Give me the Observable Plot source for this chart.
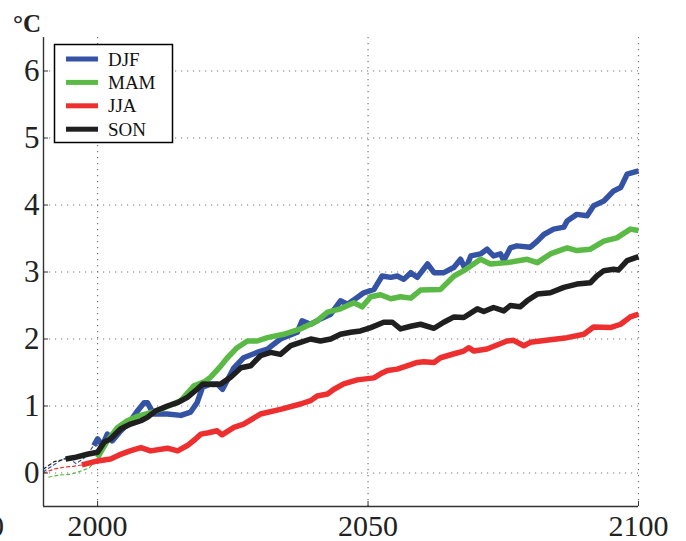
<!DOCTYPE html>
<html><head><meta charset="utf-8">
<script src="https://cdn.jsdelivr.net/npm/d3@7"></script>
<script src="https://cdn.jsdelivr.net/npm/@observablehq/plot@0.6"></script>
<style>
html,body{margin:0;padding:0;background:#fff;}
#chart{width:686px;height:541px;position:relative;overflow:hidden;}
#chart svg, #chart svg text{font-family:'Liberation Serif','Times New Roman',serif !important;}
</style></head><body><div id="chart"></div>
<script>
const seriesNames = ["DJF", "MAM", "JJA", "SON"];
const seriesColors = ["#3553a5", "#5bb946", "#ee2f2f", "#1f1f1f"];
const xTicks = [2000, 2050, 2100];
const yTicks = [0, 1, 2, 3, 4, 5, 6];
const xDomain = [1990, 2100];
const yDomain = [-0.5, 6.5];
const unitLabel = "°C";

// [year, °C]
const djf = [[1999.3,0.41],[2000,0.51],[2000.9,0.41],[2001.8,0.58],[2002.7,0.48],[2004.3,0.63],[2006.1,0.78],[2007.4,0.93],[2008.6,1.05],[2009.2,1.05],[2010.4,0.88],[2012.9,0.88],[2015.4,0.86],[2017.2,0.91],[2018.4,1.05],[2019.4,1.28],[2020.9,1.33],[2022.1,1.33],[2023.1,1.25],[2025.2,1.57],[2027,1.72],[2029.5,1.80],[2031.4,1.85],[2033.8,2.00],[2036.9,2.10],[2037.8,2.27],[2039.4,2.22],[2041.2,2.30],[2043.1,2.37],[2044.9,2.57],[2046.2,2.52],[2048,2.62],[2049.2,2.69],[2051.1,2.74],[2052.6,2.94],[2054.2,2.92],[2055.4,2.94],[2056.6,2.89],[2057.9,2.99],[2059.1,2.92],[2061,3.12],[2062.2,2.99],[2064,2.99],[2065.9,3.07],[2067.1,3.19],[2068,3.04],[2069,3.24],[2070.8,3.27],[2072,3.34],[2073.2,3.24],[2074.5,3.27],[2075.1,3.17],[2076.3,3.36],[2077.5,3.39],[2080,3.37],[2081.3,3.46],[2082.5,3.56],[2084.3,3.64],[2086.2,3.67],[2086.8,3.76],[2088.6,3.86],[2090.5,3.84],[2091.7,3.99],[2093.6,4.06],[2095.4,4.21],[2096.7,4.26],[2097.9,4.46],[2100,4.51]];
const mam = [[2000,0.23],[2001.8,0.48],[2003.7,0.68],[2005.5,0.78],[2007.5,0.85],[2009.8,0.90],[2011.7,0.95],[2015.4,1.08],[2017.8,1.30],[2019.7,1.36],[2020.9,1.43],[2022.8,1.60],[2024,1.72],[2025.8,1.87],[2027.7,1.97],[2029.5,1.97],[2031.4,2.02],[2034.4,2.07],[2037.5,2.15],[2040.6,2.27],[2042.5,2.40],[2044.9,2.45],[2047.4,2.54],[2048.9,2.48],[2050.5,2.63],[2052.3,2.66],[2054.2,2.60],[2056,2.63],[2057.9,2.61],[2059.7,2.73],[2063.4,2.74],[2065.9,2.94],[2067.7,3.02],[2070.8,3.19],[2072.6,3.12],[2075.7,3.14],[2079.4,3.19],[2081.3,3.14],[2083.7,3.27],[2086.8,3.36],[2088.6,3.32],[2091.1,3.34],[2093.6,3.46],[2096,3.51],[2098.5,3.64],[2100,3.62]];
const jja = [[1997.1,0.12],[2000,0.18],[2002.4,0.21],[2004,0.27],[2006,0.33],[2008,0.38],[2009.8,0.33],[2012.9,0.37],[2014.8,0.33],[2016.6,0.41],[2018,0.50],[2019.1,0.58],[2020.5,0.60],[2022.1,0.63],[2023,0.57],[2025.2,0.68],[2027,0.73],[2030.1,0.88],[2033.8,0.95],[2037.5,1.03],[2039.4,1.08],[2040.6,1.15],[2042.5,1.18],[2043.7,1.25],[2045.5,1.33],[2048,1.39],[2051.1,1.42],[2052.3,1.48],[2053.6,1.53],[2055.4,1.55],[2057.2,1.60],[2059.1,1.65],[2060.3,1.66],[2062.2,1.65],[2063.4,1.72],[2065.9,1.78],[2067.7,1.82],[2068.6,1.87],[2069.6,1.82],[2072,1.85],[2075.7,1.97],[2076.9,1.98],[2078.8,1.90],[2080,1.95],[2083.7,1.99],[2086.8,2.02],[2089.9,2.07],[2091.7,2.18],[2094.8,2.17],[2096.7,2.22],[2098.5,2.33],[2100,2.37]];
const son = [[1994.1,0.21],[1995.7,0.23],[1998.1,0.28],[2000,0.31],[2001.2,0.46],[2002.4,0.51],[2004.3,0.66],[2006.1,0.73],[2008,0.78],[2009.2,0.83],[2010.8,0.93],[2012.9,1.00],[2014.8,1.05],[2016.6,1.13],[2018.4,1.25],[2019.5,1.33],[2021.5,1.32],[2022.8,1.33],[2024.6,1.43],[2026.5,1.57],[2028.3,1.60],[2030.1,1.75],[2032,1.80],[2033.8,1.77],[2035.7,1.90],[2037.5,1.95],[2039.4,2.00],[2041.2,1.97],[2043.1,2.00],[2044.9,2.07],[2046.8,2.10],[2048.6,2.12],[2050.5,2.17],[2052.9,2.25],[2054.5,2.25],[2056,2.15],[2057.9,2.19],[2059.7,2.22],[2062.2,2.16],[2064,2.25],[2065.9,2.33],[2067.7,2.32],[2070.2,2.45],[2071.4,2.41],[2073.2,2.47],[2075.1,2.42],[2076.3,2.50],[2078.1,2.48],[2079.4,2.57],[2081.3,2.67],[2083.7,2.69],[2086.2,2.77],[2088.6,2.82],[2091.1,2.84],[2092.3,2.94],[2093.6,3.02],[2095.4,3.04],[2096.3,3.03],[2097.9,3.17],[2100,3.23]];

// early (thin dashed) segments
const djfEarly = [[1990,0.02],[1991.5,0.10],[1993,0.18],[1994.5,0.24],[1996,0.14],[1997.5,0.22],[1999.3,0.41]];
const mamEarly = [[1991,-0.06],[1993,-0.03],[1995,-0.02],[1997,0.03],[1998.5,0.08],[2000,0.23]];
const jjaEarly = [[1990,0.0],[1992,0.06],[1994,0.09],[1995.5,0.10],[1997.1,0.12]];
const sonEarly = [[1990,0.06],[1992,0.17],[1994.1,0.21]];

const main = [djf, mam, jja, son];
const early = [djfEarly, mamEarly, jjaEarly, sonEarly];
const rows = [], earlyRows = [];
main.forEach((s, i) => s.forEach(([year, value]) => rows.push({series: seriesNames[i], year, value})));
early.forEach((s, i) => s.forEach(([year, value]) => earlyRows.push({series: seriesNames[i], year, value})));

const font = "'Liberation Serif', 'Times New Roman', serif";
const gridStyle = {stroke: "#777", strokeOpacity: 1, strokeWidth: 1.2, strokeDasharray: "1.2,4.8"};

const chart = Plot.plot({
  width: 686, height: 541,
  marginLeft: 43, marginRight: 48, marginTop: 37, marginBottom: 35,
  style: {fontFamily: font, background: "#fff", color: "#222"},
  x: {domain: xDomain},
  y: {domain: yDomain},
  color: {domain: seriesNames, range: seriesColors},
  marks: [
    Plot.gridY(yTicks, gridStyle),
    Plot.gridX(xTicks, gridStyle),
    Plot.line(earlyRows, {x: "year", y: "value", z: "series", stroke: "series", strokeWidth: 1.2, strokeDasharray: "3,3"}),
    Plot.line(rows, {x: "year", y: "value", z: "series", stroke: "series", strokeWidth: 5.5, strokeLinejoin: "round", strokeLinecap: "butt"}),
    Plot.ruleX([xDomain[0]], {stroke: "#333", strokeWidth: 1.4}),
    Plot.ruleY([yDomain[0]], {stroke: "#333", strokeWidth: 1.4}),
    Plot.axisY(yTicks, {tickSize: -5, tickPadding: 9, fontSize: 31, fontFamily: font, label: null, stroke: "#333", fill: "#222", tickFormat: d => String(d)}),
    Plot.axisX(xTicks, {tickSize: -5, tickPadding: 13, fontSize: 30, fontFamily: font, label: null, stroke: "#333", fill: "#222", tickFormat: d => String(d)})
  ]
});
document.getElementById("chart").appendChild(chart);

const svg = d3.select(chart);
svg.append("text").attr("x", 13).attr("y", 32).attr("text-anchor", "start").attr("font-family", font).attr("font-size", 25).attr("font-weight", "bold").attr("fill", "#222").text(unitLabel);
svg.append("text").attr("x", 4).attr("y", 536).attr("text-anchor", "end").attr("font-family", font).attr("font-size", 30).attr("fill", "#222").text("0");

const lg = svg.append("g").attr("text-anchor", "start");
lg.append("rect").attr("x", 54.5).attr("y", 44.5).attr("width", 118).attr("height", 98).attr("fill", "#fff").attr("stroke", "#000").attr("stroke-width", 1.5);
seriesNames.forEach((name, i) => {
  const y = 59 + i * 23.4;
  lg.append("line").attr("x1", 66).attr("x2", 98).attr("y1", y).attr("y2", y).attr("stroke", seriesColors[i]).attr("stroke-width", 5);
  lg.append("text").attr("x", 108).attr("y", y + 6.5).attr("text-anchor", "start").attr("font-family", font).attr("font-size", 19).attr("fill", "#111").text(name);
});
</script></body></html>
